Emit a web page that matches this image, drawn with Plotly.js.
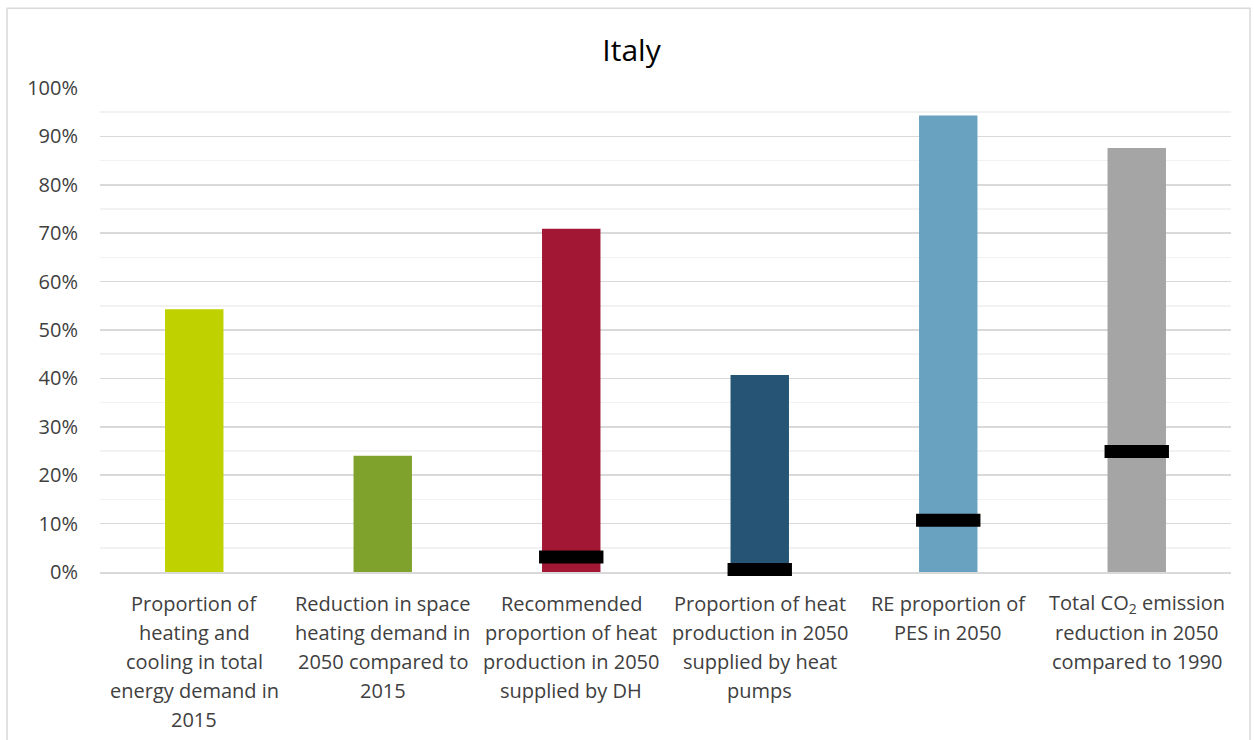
<!DOCTYPE html>
<html>
<head>
<meta charset="utf-8">
<script src="https://cdn.plot.ly/plotly-3.0.1.min.js"></script>
<style>html,body{margin:0;padding:0;background:#fff;}#chart{width:1254px;height:740px;}</style>
</head>
<body>
<div id="chart"></div>
<script>
const categories = [
  "Proportion of<br>heating and<br>cooling in total<br>energy demand in<br>2015",
  "Reduction in space<br>heating demand in<br>2050 compared to<br>2015",
  "Recommended<br>proportion of heat<br>production in 2050<br>supplied by DH",
  "Proportion of heat<br>production in 2050<br>supplied by heat<br>pumps",
  "RE proportion of<br>PES in 2050",
  "Total CO<sub>2</sub> emission<br>reduction in 2050<br>compared to 1990"
];
const barValues = [54.3, 24.0, 70.9, 40.7, 94.3, 87.6];
const barColors = ["#c0d100", "#7fa22d", "#a21733", "#265475", "#68a2c0", "#a5a5a5"];
const markerCategories = [categories[2], categories[3], categories[4], categories[5]];
const markerValues = [3.1, 0.5, 10.7, 24.9];

const font = "'Open Sans', 'Noto Sans', sans-serif";

const traces = [
  {
    type: "bar",
    x: categories,
    y: barValues,
    marker: {color: barColors},
    width: 0.31,
    hoverinfo: "y"
  },
  {
    type: "scatter",
    mode: "markers",
    x: markerCategories,
    y: markerValues,
    marker: {symbol: "line-ew", size: 46, color: "#000", line: {color: "#000", width: 13}},
    cliponaxis: false,
    hoverinfo: "y"
  }
];

// category labels: one annotation per text line for Excel-like line spacing
const annotations = [];
categories.forEach(function (cat) {
  cat.split("<br>").forEach(function (line, i) {
    annotations.push({
      x: cat, xref: "x", y: 0, yref: "paper",
      text: line, showarrow: false,
      xanchor: "center", yanchor: "middle",
      yshift: -(31 + 29 * i),
      font: {family: font, size: 20, color: "#404040"}
    });
  });
});

const layout = {
  width: 1254,
  height: 740,
  showlegend: false,
  paper_bgcolor: "#fff",
  plot_bgcolor: "#fff",
  margin: {l: 100, r: 23, t: 88, b: 168},
  title: {text: "Italy", font: {family: font, size: 30, color: "#000"}, x: 0.5036, xanchor: "center", y: 0.932, yanchor: "middle"},
  font: {family: font, color: "#404040"},
  xaxis: {
    showticklabels: false,
    showgrid: false,
    showline: true,
    linecolor: "#d9d9d9",
    linewidth: 1.5,
    ticks: "",
    layer: "below traces",
    fixedrange: true
  },
  yaxis: {
    range: [0, 100],
    dtick: 10,
    ticksuffix: "%",
    tickfont: {family: font, size: 20, color: "#404040"},
    showgrid: true,
    gridcolor: "#d9d9d9",
    gridwidth: 1.5,
    zeroline: false,
    showline: false,
    ticks: "",
    ticklabelstandoff: 21,
    layer: "below traces",
    minor: {dtick: 5, showgrid: true, gridcolor: "#f2f2f2", gridwidth: 1.5},
    fixedrange: true
  },
  annotations: annotations,
  shapes: [
    {type: "rect", xref: "paper", yref: "paper", x0: -0.0822, x1: 1.0168, y0: -0.4, y1: 1.165,
     line: {color: "#d9d9d9", width: 1.5}, fillcolor: "rgba(0,0,0,0)", layer: "below"}
  ]
};

Plotly.newPlot("chart", traces, layout, {displayModeBar: false, staticPlot: true});
</script>
</body>
</html>
